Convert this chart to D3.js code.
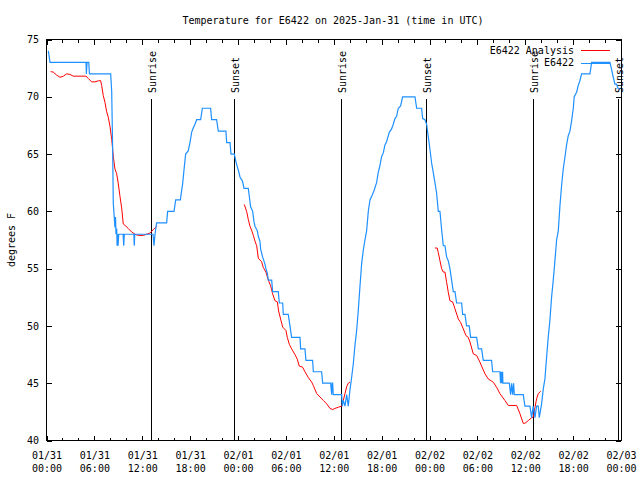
<!DOCTYPE html>
<html><head><meta charset="utf-8">
<script src="https://cdn.jsdelivr.net/npm/d3@7"></script>
<style>
body{margin:0;background:#fff;}
svg text{font-family:"DejaVu Sans Mono",monospace;font-size:10px;fill:#000;}
</style></head>
<body><svg id="c" width="640" height="480"></svg>
<script>
// ---- data ----
const titleText = "Temperature for E6422 on 2025-Jan-31 (time in UTC)";
const yLabel = "degrees F";
const startUTC = Date.UTC(2025, 0, 31, 0, 0);
const endUTC = Date.UTC(2025, 1, 3, 0, 0);
const yTicks = [40, 45, 50, 55, 60, 65, 70, 75];

// observations (hours since 2025-01-31 00:00 UTC, deg F)
const obsHours = [0.23,0.44,4.95,5.0,5.08,5.3,5.38,8.04,8.17,8.29,8.37,8.58,8.65,8.71,8.8,8.85,8.92,8.97,9.05,9.6,9.68,9.75,10.95,11.0,11.06,13.35,13.47,13.6,13.7,13.8,15.06,15.18,15.98,16.19,16.77,17.06,17.23,17.44,17.77,17.98,18.19,18.4,18.61,18.82,19.32,19.53,20.57,20.7,21.32,21.53,22.49,22.58,23.0,23.12,23.54,23.75,23.91,24.08,24.25,24.58,24.75,25.29,25.42,25.58,25.84,26.0,26.13,26.42,26.55,26.75,26.84,27.09,27.38,27.5,27.67,27.8,28.22,28.34,29.05,29.18,29.6,29.68,30.3,30.51,30.72,31.77,31.85,32.39,32.52,33.35,33.44,34.48,34.61,35.61,35.74,35.8,35.86,35.94,36.99,37.07,37.2,37.41,37.62,37.82,38.03,38.24,38.45,38.66,38.87,39.07,39.28,39.49,39.7,39.91,40.12,40.33,40.54,40.87,41.04,41.37,41.58,41.79,42.0,42.21,42.42,42.63,42.96,43.25,43.46,43.67,43.88,44.09,44.38,44.63,46.18,46.39,47.01,47.14,47.43,47.64,47.85,48.06,48.27,48.47,48.68,48.89,49.1,49.31,49.52,49.73,49.94,50.15,50.35,50.56,50.77,50.98,51.19,51.4,52.03,52.15,52.44,52.65,52.98,53.15,53.91,54.12,54.53,54.74,55.78,55.91,56.83,56.91,57.0,57.08,57.16,57.2,58.0,58.17,58.29,58.42,58.54,58.63,59.75,59.96,60.59,60.8,61.0,61.22,61.42,61.63,61.76,62.05,62.26,62.47,62.68,62.88,63.09,63.3,63.51,63.72,63.93,64.14,64.35,64.56,64.76,64.97,65.18,65.39,65.6,65.81,66.02,66.14,66.44,66.64,66.85,67.06,68.11,68.32,70.61,70.82,71.03,71.24,71.45,71.65,71.87];
const obsTemps = [74,73,73,72,73,73,72,72,70.5,65.5,60.7,58.6,59.5,58,58.5,57,58,57,58,58,57,58,58,57,58,58,57,58,58.5,59,59,60,60,61,61,62.4,63.6,65,65.3,66,66.9,67.3,67.6,68,68,69,69,68,68,67,67,66,66,65,65,64.3,63.9,63.5,63,62.6,62,62,61.3,60.4,60,59.1,58.7,58.3,57.8,57.4,56.7,56,55.4,55,54.6,54,54,53,53,52,52,51,51,50,49,49,48,48,47,47,46,46,45,45,44,45,45,44,44,43,43.5,43,44,43,44.4,45.5,46.7,48.3,49.6,51.3,53.4,55.4,56.6,57.5,58.3,60,61,61.5,61.8,62.5,63.4,64,64.8,65.1,65.8,66.1,66.9,67.2,67.6,68.1,68.3,69,69.2,70,70,69,69,68.1,68,67.6,66.5,65.4,64.2,63.4,62.5,61.6,60,60,58.4,57,57,56,55.7,55,54,53,53,52,52,51,51,50,50,49,49,48,48,47,47,46,46,45,46,45,46,45,45,44,45,44,45,44,44,43,43,42,43,42,43,43,42,43.2,44.5,45.4,47.3,49,50.5,52.5,54,55.7,57.5,58.3,60.5,62.3,63.7,64.7,65.8,66.6,67,67.9,69,70,70.4,71,71.4,72,72,73,73,72.4,71.7,71.1,71.1,70.7,70.7];

// analysis (null = gap)
const anaHours = [0.52,0.85,1.27,1.69,2.11,2.53,2.94,3.36,4.95,5.24,5.66,6.08,6.5,6.79,6.91,7.12,7.33,7.54,7.75,7.96,8.17,8.37,8.58,8.79,9.0,9.21,9.42,9.62,9.96,10.25,10.67,11.09,11.5,12.13,12.55,12.97,13.38,13.8,
 null,
 24.79,25.08,25.29,25.5,25.71,25.92,26.13,26.34,26.55,26.96,27.17,27.5,27.8,28.09,28.34,28.63,28.93,29.09,29.34,29.6,30.01,30.18,30.43,30.72,31.14,31.43,31.68,32.1,32.39,32.81,33.23,33.44,33.86,34.27,34.69,35.11,35.53,35.86,36.15,36.57,36.99,37.2,37.41,37.62,37.82,38.03,
 null,
 48.68,48.97,49.1,49.31,49.52,49.73,49.94,50.15,50.35,50.56,50.9,51.19,51.61,51.9,52.23,52.57,52.86,53.07,53.49,53.91,54.32,54.95,55.36,55.99,56.41,56.83,57.46,57.87,58.92,59.34,59.75,59.96,60.38,60.8,61.0,61.22,61.42,61.63,61.93];
const anaTemps = [72.2,72.15,71.9,71.7,71.8,72.0,71.95,71.8,71.8,71.6,71.3,71.3,71.4,71.4,71.0,70.1,69.5,68.7,68.2,67.4,66.3,64.8,63.7,63.3,62.4,61.3,60.3,58.9,58.7,58.5,58.2,58.0,57.9,57.9,58.0,58.1,58.4,58.7,
 null,
 60.6,60.0,59.3,58.7,58.35,57.9,57.4,57.0,55.9,55.6,55.1,54.7,54.0,53.5,52.8,52.2,52.1,51.3,50.6,49.9,49.6,49.0,48.4,48.0,47.5,47.1,46.5,46.4,46.0,45.5,45.1,44.8,44.1,43.8,43.5,43.2,42.8,42.7,42.8,42.9,43.0,43.5,44.1,44.7,45.0,45.1,
 null,
 56.8,56.8,56.4,55.7,55.0,54.7,54.7,53.8,52.95,52.2,52.1,51.5,50.6,50.3,49.75,49.16,49.0,48.6,47.56,47.42,46.84,45.82,45.38,45.09,44.65,44.08,43.49,43.06,43.06,42.33,41.5,41.5,41.74,41.98,42.04,42.9,43.64,44.08,44.3];

// sun events
const sunHours = [13.05, 23.53, 36.93, 47.58, 60.98, 71.68];
const sunLabels = ["Sunrise", "Sunset", "Sunrise", "Sunset", "Sunrise", "Sunset"];
const seriesNames = ["E6422 Analysis", "E6422"];
const seriesColors = ["#ff0000", "#1e90ff"];

// ---- drawing ----
const svg = d3.select("#c");
const L = 46.5, R = 621, T = 39.5, B = 440.5;
const toDate = h => new Date(startUTC + h * 3600e3);
const x = d3.scaleUtc().domain([new Date(startUTC), new Date(endUTC)]).range([L, R]);
const y = d3.scaleLinear().domain([40, 75]).range([B, T]);

// title
svg.append("text").attr("x", 333).attr("y", 24).attr("text-anchor", "middle").text(titleText);
// y label
svg.append("text").attr("transform", "translate(14.5,240) rotate(-90)").attr("text-anchor", "middle").text(yLabel);

const g = svg.append("g").attr("shape-rendering", "crispEdges");

const majorTicks = d3.utcHour.every(6).range(new Date(startUTC), new Date(endUTC + 1));
const minorTicks = d3.utcHour.every(2).range(new Date(startUTC), new Date(endUTC + 1));

// bottom axis
const xb = g.append("g").attr("transform", `translate(0,${B})`)
  .call(d3.axisBottom(x).tickValues(majorTicks).tickSizeInner(-5).tickSizeOuter(0).tickFormat(""));
xb.select(".domain").remove();
xb.selectAll(".tick").append("text")
  .attr("text-anchor", "middle").attr("fill", "#000")
  .each(function(d) {
    const t = d3.select(this);
    t.append("tspan").attr("x", 0).attr("y", 18.5).text(d3.utcFormat("%m/%d")(d));
    t.append("tspan").attr("x", 0).attr("y", 31.5).text(d3.utcFormat("%H:%M")(d));
  });
const xbm = g.append("g").attr("transform", `translate(0,${B})`)
  .call(d3.axisBottom(x).tickValues(minorTicks).tickSizeInner(-3).tickSizeOuter(0).tickFormat(""));
xbm.select(".domain").remove();
// top axis (mirror)
const xt = g.append("g").attr("transform", `translate(0,${T})`)
  .call(d3.axisTop(x).tickValues(majorTicks).tickSizeInner(-5).tickSizeOuter(0).tickFormat(""));
xt.select(".domain").remove();
const xtm = g.append("g").attr("transform", `translate(0,${T})`)
  .call(d3.axisTop(x).tickValues(minorTicks).tickSizeInner(-3).tickSizeOuter(0).tickFormat(""));
xtm.select(".domain").remove();
// left axis
const yl = g.append("g").attr("transform", `translate(${L},0)`)
  .call(d3.axisLeft(y).tickValues(yTicks).tickSizeInner(-5).tickSizeOuter(0).tickPadding(7.5));
yl.select(".domain").remove();
yl.selectAll("text").attr("fill", "#000");
// right axis
const yr = g.append("g").attr("transform", `translate(${R},0)`)
  .call(d3.axisRight(y).tickValues(yTicks).tickSizeInner(-5).tickSizeOuter(0).tickFormat(""));
yr.select(".domain").remove();
svg.selectAll(".tick line").attr("stroke", "#000");
svg.selectAll("g[font-family]").attr("font-family", null).attr("font-size", null);

// sun lines
sunHours.forEach((h, i) => {
  const sx = Math.round(x(toDate(h))) + 0.5;
  g.append("line").attr("x1", sx).attr("x2", sx).attr("y1", 99).attr("y2", B).attr("stroke", "#000");
  svg.append("text").attr("transform", `translate(${sx + 4.5},93) rotate(-90)`).attr("text-anchor", "start").text(sunLabels[i]);
});

// data lines
const obs = obsHours.map((h, i) => ({t: toDate(h), v: obsTemps[i]}));
const ana = anaHours.map((h, i) => ({t: h == null ? null : toDate(h), v: anaTemps[i]}));
const line = d3.line().defined(d => d.t != null && d.v != null).x(d => x(d.t)).y(d => y(d.v));
svg.append("path").datum(ana).attr("d", line).attr("fill", "none").attr("stroke", seriesColors[0]).attr("stroke-width", 1);
svg.append("path").datum(obs).attr("d", line).attr("fill", "none").attr("stroke", seriesColors[1]).attr("stroke-width", 1.2);

// legend
const lg = svg.append("g");
seriesNames.forEach((n, i) => {
  const ly = 50 + i * 12.5;
  lg.append("text").attr("x", 574).attr("y", ly).attr("dy", "0.35em").attr("text-anchor", "end").text(n);
  lg.append("line").attr("x1", 581).attr("x2", 610).attr("y1", Math.round(ly) + 0.5).attr("y2", Math.round(ly) + 0.5)
    .attr("stroke", seriesColors[i]).attr("shape-rendering", "crispEdges");
});

// frame
g.append("rect").attr("x", L).attr("y", T).attr("width", R - L).attr("height", B - T)
  .attr("fill", "none").attr("stroke", "#000");
</script></body></html>
